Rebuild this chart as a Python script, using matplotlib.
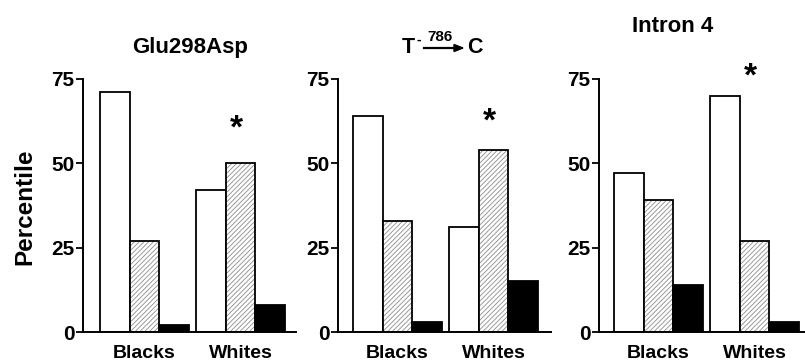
import numpy as np
import matplotlib.pyplot as plt

plt.rcParams['font.family'] = ['Liberation Sans', 'DejaVu Sans']
plt.rcParams['font.weight'] = 'bold'
plt.rcParams['hatch.linewidth'] = 0.6

# data (percent of each genotype within group)
groups = ['Blacks', 'Whites']
yticks = [0, 25, 50, 75]

glu298asp_wt = [71, 42]
glu298asp_het = [27, 50]
glu298asp_hom = [2, 8]

t786c_wt = [64, 31]
t786c_het = [33, 54]
t786c_hom = [3, 15]

intron4_wt = [47, 70]
intron4_het = [39, 27]
intron4_hom = [14, 3]

panels = [
    (glu298asp_wt, glu298asp_het, glu298asp_hom),
    (t786c_wt, t786c_het, t786c_hom),
    (intron4_wt, intron4_het, intron4_hom),
]
star_y = [57.5, 59.6, 73]   # asterisk baseline, data units

W, H = 805, 361
fig = plt.figure(figsize=(W / 100, H / 100), dpi=100)

# axes placement in pixels: (left, right)
ax_px = [(83, 296), (338, 551), (599, 805)]
first_bar_px = [100, 353, 614]
unit = 29.5        # pixels per bar
gap = 0.27         # gap between groups, bar units
y0_px, y75_px = 332, 79

for i, (wt, het, hom) in enumerate(panels):
    left, right = ax_px[i]
    ax = fig.add_axes([left / W, (H - y0_px) / H, (right - left) / W, (y0_px - y75_px) / H])
    xmin = -(first_bar_px[i] - left) / unit
    xmax = (right - first_bar_px[i]) / unit

    base = np.array([0, 3 + gap])
    ax.bar(base + 0.5, wt, width=1, color='white', edgecolor='black', linewidth=1.3, zorder=2)
    ax.bar(base + 1.5, het, width=1, color='white', edgecolor='#8c8c8c', linewidth=0,
           hatch='///////', zorder=2)
    ax.bar(base + 1.5, het, width=1, fill=False, edgecolor='black', linewidth=1.3, zorder=3)
    ax.bar(base + 2.5, hom, width=1, color='black', edgecolor='black', linewidth=1.3, zorder=2)

    ax.set_xlim(xmin, xmax)
    ax.set_ylim(0, 75)
    ax.set_yticks(yticks)
    ax.set_xticks(base + 1.5)
    ax.set_xticklabels(groups, fontsize=14, fontweight='bold')
    ax.tick_params(axis='x', length=0, pad=9)
    ax.tick_params(axis='y', length=5, width=1.3, pad=1, labelsize=15)
    for lab in ax.get_yticklabels():
        lab.set_fontweight('bold')
    for s in ['top', 'right']:
        ax.spines[s].set_visible(False)
    for s in ['left', 'bottom']:
        ax.spines[s].set_linewidth(1.4)

    ax.text(base[1] + 1.35, star_y[i], '*', fontsize=24, fontweight='bold',
            ha='center', va='baseline', clip_on=False)

# titles
fig.text(190 / W, 1 - 53 / H, 'Glu298Asp', fontsize=16, fontweight='bold',
         ha='center', va='baseline')
fig.text(673 / W, 1 - 32 / H, 'Intron 4', fontsize=16, fontweight='bold',
         ha='center', va='baseline')
fig.text(402 / W, 1 - 53 / H, 'T', fontsize=15.5, fontweight='bold', ha='left', va='baseline')
fig.text(416 / W, 1 - 44 / H, '-', fontsize=10, fontweight='bold', ha='left', va='baseline')
fig.text(440 / W, 1 - 41 / H, '786', fontsize=11, fontweight='bold', ha='center', va='baseline')
fig.add_artist(plt.Line2D([424 / W, 455 / W], [1 - 48 / H, 1 - 48 / H], color='black', lw=1.6))
fig.add_artist(plt.Polygon([[454 / W, 1 - 44.5 / H], [463 / W, 1 - 48 / H], [454 / W, 1 - 51.5 / H]],
                           closed=True, color='black'))
fig.text(467 / W, 1 - 53 / H, 'C', fontsize=15.5, fontweight='bold', ha='left', va='baseline')

fig.text(25 / W, 1 - 207 / H, 'Percentile', fontsize=17.5, fontweight='bold',
         rotation=90, ha='center', va='center')

fig.savefig('out.png', dpi=100)
